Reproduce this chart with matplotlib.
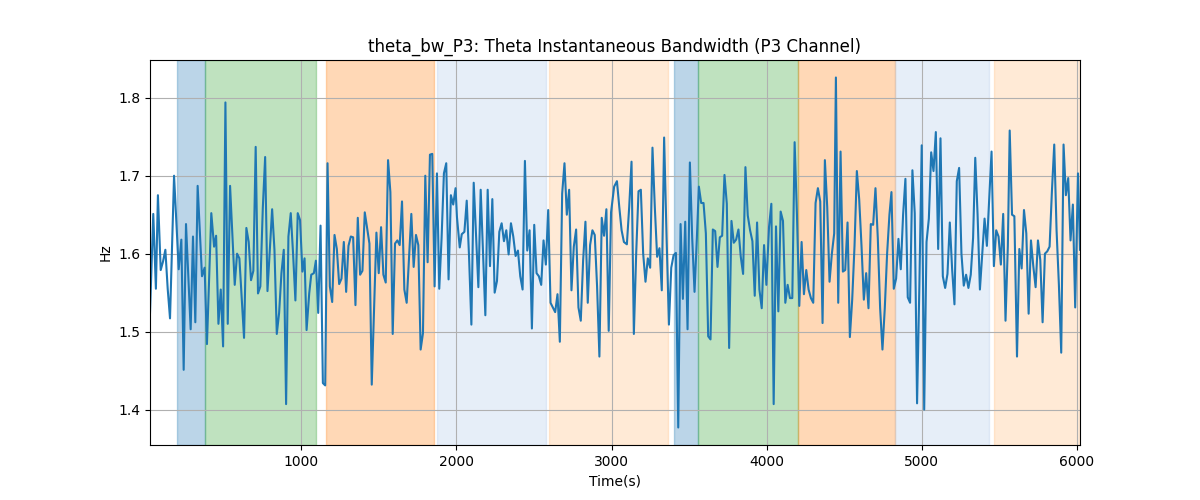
"""theta_bw_P3 瞬时带宽曲线，带阶段底色。"""

import matplotlib

matplotlib.use("Agg")
import matplotlib.pyplot as plt

# 采样时间 (s) 与带宽 (Hz)
times = [
    26, 47, 64, 77, 95, 110, 125, 140, 155, 181, 211, 228, 243, 258, 288, 303, 318, 333, 361, 378,
    393, 421, 439, 452, 467, 482, 497, 512, 527, 542, 572, 587, 602, 632, 647, 662, 677, 692, 707, 722,
    737, 753, 768, 783, 813, 828, 843, 858, 873, 888, 903, 918, 933, 948, 963, 978, 993, 1008, 1022, 1035,
    1052, 1065, 1082, 1095, 1110, 1125, 1140, 1155, 1170, 1185, 1200, 1215, 1230, 1245, 1260, 1275, 1290, 1305, 1320, 1335,
    1350, 1365, 1380, 1395, 1410, 1440, 1455, 1485, 1500, 1515, 1530, 1545, 1560, 1575, 1590, 1605, 1620, 1635, 1650, 1665,
    1680, 1695, 1710, 1725, 1740, 1755, 1770, 1785, 1800, 1815, 1830, 1845, 1860, 1875, 1890, 1905, 1920, 1935, 1950, 1965,
    1980, 1995, 2004, 2022, 2035, 2052, 2067, 2082, 2097, 2112, 2127, 2142, 2157, 2172, 2187, 2202, 2217, 2232, 2247, 2262,
    2277, 2292, 2307, 2322, 2337, 2352, 2367, 2382, 2397, 2412, 2427, 2442, 2457, 2472, 2487, 2502, 2517, 2532, 2547, 2562,
    2577, 2592, 2607, 2622, 2637, 2652, 2667, 2682, 2697, 2712, 2727, 2742, 2757, 2772, 2787, 2802, 2817, 2832, 2847, 2862,
    2877, 2892, 2907, 2922, 2937, 2952, 2967, 2982, 2997, 3017, 3035, 3050, 3065, 3080, 3099, 3114, 3129, 3144, 3159, 3174,
    3189, 3204, 3219, 3234, 3249, 3264, 3279, 3294, 3309, 3324, 3339, 3355, 3370, 3385, 3400, 3415, 3430, 3445, 3460, 3475,
    3490, 3505, 3520, 3535, 3550, 3563, 3578, 3593, 3608, 3623, 3638, 3653, 3668, 3683, 3698, 3713, 3728, 3743, 3758, 3773,
    3788, 3803, 3818, 3833, 3848, 3863, 3878, 3893, 3908, 3923, 3938, 3953, 3968, 3983, 3998, 4015, 4030, 4045, 4060, 4075,
    4090, 4105, 4120, 4135, 4150, 4165, 4180, 4195, 4210, 4225, 4240, 4255, 4270, 4285, 4300, 4315, 4330, 4345, 4360, 4375,
    4390, 4405, 4420, 4435, 4446, 4461, 4476, 4491, 4506, 4521, 4536, 4551, 4566, 4581, 4596, 4611, 4626, 4641, 4656, 4671,
    4686, 4701, 4716, 4731, 4746, 4761, 4776, 4791, 4804, 4819, 4834, 4849, 4864, 4879, 4894, 4909, 4924, 4939, 4954, 4969,
    4984, 4999, 5015, 5030, 5045, 5060, 5075, 5090, 5105, 5120, 5135, 5150, 5165, 5180, 5195, 5210, 5225, 5240, 5255, 5270,
    5285, 5300, 5315, 5330, 5344, 5359, 5374, 5389, 5404, 5419, 5434, 5449, 5464, 5479, 5494, 5509, 5524, 5539, 5554, 5566,
    5581, 5596, 5613, 5628, 5643, 5658, 5673, 5688, 5703, 5718, 5733, 5748, 5763, 5778, 5793, 5808, 5823, 5838, 5853, 5868,
    5883, 5898, 5913, 5928, 5943, 5958, 5973, 5988, 6006, 6019,
]
bandwidth = [
    1.524, 1.651, 1.555, 1.675, 1.579, 1.590, 1.605, 1.555, 1.517, 1.700, 1.580, 1.618, 1.451, 1.638, 1.503, 1.622, 1.512, 1.687, 1.571, 1.582,
    1.484, 1.652, 1.609, 1.623, 1.510, 1.554, 1.481, 1.794, 1.510, 1.687, 1.560, 1.600, 1.594, 1.492, 1.633, 1.615, 1.566, 1.578, 1.737, 1.549,
    1.558, 1.659, 1.724, 1.552, 1.657, 1.605, 1.497, 1.524, 1.575, 1.605, 1.407, 1.622, 1.652, 1.600, 1.540, 1.652, 1.643, 1.577, 1.594, 1.502,
    1.549, 1.573, 1.575, 1.591, 1.524, 1.636, 1.434, 1.431, 1.716, 1.558, 1.538, 1.624, 1.606, 1.561, 1.568, 1.615, 1.551, 1.610, 1.622, 1.621,
    1.534, 1.646, 1.573, 1.578, 1.653, 1.613, 1.432, 1.627, 1.575, 1.634, 1.573, 1.563, 1.720, 1.679, 1.497, 1.613, 1.617, 1.611, 1.667, 1.554,
    1.537, 1.593, 1.651, 1.583, 1.624, 1.611, 1.477, 1.498, 1.700, 1.589, 1.727, 1.728, 1.558, 1.703, 1.555, 1.620, 1.703, 1.716, 1.567, 1.675,
    1.663, 1.684, 1.647, 1.608, 1.625, 1.628, 1.668, 1.596, 1.509, 1.691, 1.625, 1.557, 1.682, 1.600, 1.521, 1.682, 1.584, 1.670, 1.550, 1.565,
    1.628, 1.639, 1.616, 1.630, 1.599, 1.639, 1.622, 1.597, 1.604, 1.571, 1.554, 1.719, 1.604, 1.630, 1.504, 1.637, 1.575, 1.571, 1.560, 1.617,
    1.586, 1.656, 1.537, 1.531, 1.525, 1.548, 1.487, 1.677, 1.716, 1.650, 1.682, 1.553, 1.609, 1.631, 1.531, 1.514, 1.591, 1.641, 1.537, 1.611,
    1.630, 1.624, 1.558, 1.468, 1.646, 1.623, 1.657, 1.501, 1.653, 1.686, 1.693, 1.660, 1.630, 1.615, 1.612, 1.660, 1.718, 1.497, 1.600, 1.680,
    1.682, 1.600, 1.564, 1.594, 1.582, 1.736, 1.660, 1.596, 1.607, 1.553, 1.749, 1.620, 1.509, 1.582, 1.598, 1.601, 1.377, 1.638, 1.542, 1.641,
    1.503, 1.717, 1.620, 1.551, 1.620, 1.686, 1.665, 1.665, 1.626, 1.494, 1.490, 1.631, 1.629, 1.583, 1.621, 1.623, 1.701, 1.664, 1.479, 1.642,
    1.614, 1.618, 1.631, 1.596, 1.574, 1.711, 1.649, 1.630, 1.616, 1.546, 1.640, 1.554, 1.530, 1.611, 1.560, 1.634, 1.664, 1.407, 1.635, 1.526,
    1.654, 1.642, 1.537, 1.560, 1.543, 1.543, 1.743, 1.650, 1.533, 1.615, 1.548, 1.579, 1.554, 1.543, 1.537, 1.665, 1.684, 1.667, 1.511, 1.720,
    1.660, 1.564, 1.600, 1.626, 1.826, 1.537, 1.731, 1.577, 1.579, 1.640, 1.493, 1.541, 1.610, 1.706, 1.670, 1.610, 1.541, 1.575, 1.530, 1.638,
    1.637, 1.684, 1.620, 1.530, 1.477, 1.530, 1.600, 1.650, 1.679, 1.555, 1.568, 1.619, 1.580, 1.650, 1.696, 1.544, 1.537, 1.707, 1.652, 1.408,
    1.560, 1.739, 1.400, 1.615, 1.645, 1.730, 1.706, 1.756, 1.606, 1.748, 1.571, 1.556, 1.574, 1.640, 1.580, 1.535, 1.693, 1.710, 1.600, 1.559,
    1.573, 1.556, 1.573, 1.620, 1.723, 1.650, 1.554, 1.600, 1.645, 1.610, 1.670, 1.731, 1.584, 1.630, 1.622, 1.586, 1.651, 1.514, 1.610, 1.758,
    1.650, 1.648, 1.468, 1.606, 1.581, 1.656, 1.626, 1.523, 1.617, 1.584, 1.557, 1.617, 1.592, 1.512, 1.600, 1.603, 1.609, 1.680, 1.740, 1.630,
    1.560, 1.473, 1.740, 1.675, 1.697, 1.617, 1.663, 1.531, 1.703, 1.605,
]

# 阶段区间 (起, 止) 与底色
span_starts = [203, 378, 1161, 1873, 2597, 3400, 3558, 4203, 4828, 5465]
span_ends = [378, 1093, 1856, 2578, 3366, 3558, 4200, 4825, 5430, 6019]
span_colors = ["#1f77b4", "#2ca02c", "#ff7f0e", "#aec7e8", "#ffbb78",
               "#1f77b4", "#2ca02c", "#ff7f0e", "#aec7e8", "#ffbb78"]


def main() -> None:
    fig, ax = plt.subplots(figsize=(12, 5), dpi=100)
    for start, end, color in zip(span_starts, span_ends, span_colors):
        ax.axvspan(start, end, color=color, alpha=0.3)
    ax.plot(times, bandwidth, color="tab:blue")
    ax.set_xlim(times[0], times[-1])
    ax.set_title("theta_bw_P3: Theta Instantaneous Bandwidth (P3 Channel)")
    ax.set_xlabel("Time(s)")
    ax.set_ylabel("Hz")
    ax.grid(True)
    fig.savefig("out.png")
    plt.close(fig)


if __name__ == "__main__":
    main()
